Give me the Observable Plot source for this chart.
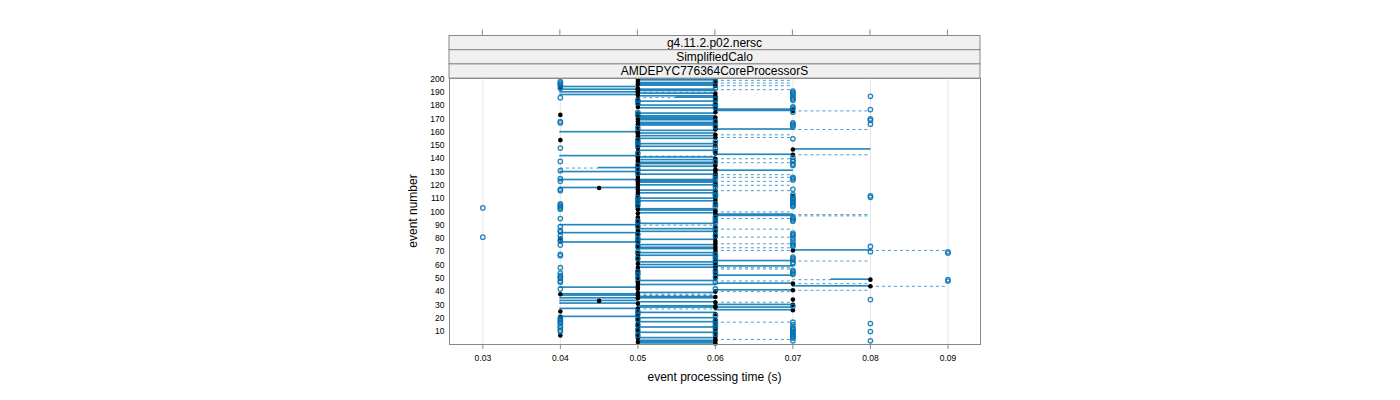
<!DOCTYPE html>
<html><head><meta charset="utf-8">
<script src="https://cdn.jsdelivr.net/npm/d3@7"></script>
<script src="https://cdn.jsdelivr.net/npm/@observablehq/plot@0.6"></script>
<style>body{margin:0;background:#fff;} #chart{width:1400px;height:400px;}</style>
</head><body><div id="chart"></div>
<script>
// Per-event box statistics (event 1..200): median, quartiles, whisker ends (seconds)
const med = [
.06,.05,.06,.06,.05,.06,.04,.05,.06,.05, .06,.05,.06,.05,.06,.05,.06,.05,.06,.05,
.04,.05,.06,.05,.04,.07,.05,.06,.06,.07, .05,.06,.045,.07,.05,.06,.05,.04,.05,.06,
.07,.05,.05,.08,.05,.07,.05,.05,.08,.06, .05,.06,.06,.05,.06,.05,.06,.05,.06,.06,
.05,.06,.06,.05,.06,.05,.06,.05,.05,.06, .07,.06,.05,.06,.05,.06,.05,.06,.05,.04,
.06,.05,.06,.05,.06,.05,.06,.05,.06,.05, .05,.05,.06,.05,.06,.05,.06,.06,.05,.06,
.06,.05,.05,.05,.06,.05,.06,.05,.06,.05, .06,.07,.05,.06,.05,.06,.05,.045,.05,.06,
.05,.06,.05,.05,.05,.06,.05,.06,.06,.05, .06,.06,.05,.05,.06,.05,.06,.05,.05,.06,
.05,.05,.07,.06,.05,.06,.07,.05,.05,.06, .05,.06,.05,.04,.05,.06,.05,.06,.05,.05,
.05,.06,.06,.05,.06,.05,.06,.05,.06,.05, .06,.05,.04,.05,.06,.07,.07,.06,.05,.06,
.05,.06,.05,.06,.05,.06,.06,.05,.06,.05, .05,.05,.05,.04,.06,.05,.06,.05,.06,.05];
const q1 = [
.05,.05,.05,.06,.05,.06,.04,.05,.05,.05, .06,.05,.05,.05,.06,.05,.05,.05,.06,.05,
.04,.05,.06,.05,.04,.06,.04,.05,.05,.06, .04,.05,.04,.07,.04,.05,.04,.04,.05,.06,
.06,.05,.04,.07,.05,.06,.05,.05,.075,.06, .05,.06,.06,.05,.06,.05,.06,.05,.06,.05,
.05,.05,.06,.05,.06,.05,.05,.05,.05,.06, .07,.05,.05,.06,.05,.06,.04,.06,.05,.04,
.06,.05,.06,.04,.05,.05,.05,.05,.06,.04, .05,.05,.06,.05,.06,.05,.06,.06,.05,.06,
.05,.05,.05,.05,.06,.05,.06,.05,.06,.05, .06,.07,.05,.05,.05,.05,.05,.04,.05,.05,
.05,.05,.05,.04,.05,.06,.05,.05,.06,.04, .05,.06,.045,.05,.06,.05,.05,.05,.05,.06,
.05,.04,.06,.06,.05,.05,.07,.05,.05,.06, .05,.06,.05,.04,.05,.06,.05,.06,.05,.04,
.05,.06,.06,.05,.05,.05,.05,.05,.05,.05, .05,.05,.04,.05,.06,.06,.06,.05,.05,.05,
.05,.06,.05,.06,.05,.055,.05,.04,.05,.04, .05,.04,.05,.04,.05,.05,.05,.05,.05,.05];
const q3 = [
.06,.06,.06,.06,.06,.06,.04,.05,.06,.05, .06,.05,.06,.05,.06,.05,.06,.05,.06,.06,
.05,.05,.06,.06,.04,.07,.05,.07,.06,.07, .05,.06,.05,.07,.06,.06,.05,.05,.06,.06,
.07,.05,.05,.08,.06,.07,.05,.06,.08,.06, .05,.07,.06,.05,.06,.05,.06,.06,.07,.06,
.05,.06,.07,.05,.06,.05,.06,.05,.06,.06, .08,.06,.06,.06,.06,.06,.05,.06,.06,.04,
.06,.05,.06,.05,.06,.05,.06,.05,.06,.05, .06,.05,.06,.05,.06,.05,.07,.07,.06,.06,
.06,.06,.05,.05,.06,.05,.06,.06,.06,.06, .06,.07,.05,.06,.05,.06,.05,.05,.05,.06,
.05,.06,.06,.06,.05,.06,.05,.06,.06,.05, .07,.06,.05,.06,.06,.06,.06,.05,.06,.06,
.06,.05,.07,.06,.05,.06,.08,.05,.06,.06, .06,.06,.05,.04,.06,.06,.06,.06,.06,.05,
.06,.07,.06,.05,.06,.06,.06,.05,.06,.06, .06,.06,.04,.06,.06,.07,.07,.06,.05,.06,
.05,.06,.06,.06,.05,.06,.06,.05,.06,.05, .06,.06,.05,.05,.06,.06,.06,.05,.06,.06];
const lo = [
.05,.05,.05,.06,.05,.06,.04,.05,.05,.05, .06,.05,.05,.05,.06,.05,.05,.05,.06,.05,
.04,.05,.06,.05,.04,.06,.04,.05,.05,.06, .04,.05,.04,.07,.04,.05,.04,.04,.05,.06,
.06,.05,.04,.07,.05,.06,.05,.05,.07,.06, .05,.06,.06,.05,.06,.05,.06,.05,.06,.05,
.05,.05,.06,.05,.06,.05,.05,.05,.05,.06, .06,.05,.05,.06,.05,.06,.04,.06,.05,.04,
.06,.05,.06,.04,.05,.05,.05,.05,.06,.04, .05,.05,.06,.05,.06,.05,.06,.06,.05,.06,
.05,.05,.05,.05,.06,.05,.06,.05,.06,.05, .06,.07,.05,.05,.05,.05,.05,.04,.05,.05,
.05,.05,.05,.04,.05,.06,.05,.05,.06,.04, .05,.06,.04,.05,.06,.05,.05,.05,.05,.06,
.05,.04,.06,.06,.05,.05,.07,.05,.05,.06, .05,.06,.05,.04,.05,.06,.05,.06,.05,.04,
.05,.06,.06,.05,.05,.05,.05,.05,.05,.05, .05,.05,.04,.05,.06,.06,.06,.05,.05,.05,
.05,.06,.05,.06,.05,.05,.05,.04,.05,.04, .05,.04,.05,.04,.05,.05,.05,.05,.05,.05];
const hi = [
.06,.06,.06,.07,.06,.06,.04,.05,.06,.05, .06,.05,.06,.05,.06,.05,.07,.05,.06,.06,
.05,.05,.06,.06,.04,.07,.06,.07,.06,.07, .05,.07,.05,.07,.06,.06,.06,.06,.06,.07,
.08,.05,.05,.09,.06,.08,.05,.07,.08,.06, .05,.07,.06,.05,.06,.05,.07,.07,.07,.06,
.05,.06,.08,.05,.06,.05,.06,.05,.06,.06, .09,.06,.07,.06,.06,.07,.05,.06,.06,.04,
.07,.05,.06,.05,.06,.05,.07,.05,.06,.06, .06,.05,.06,.05,.07,.05,.08,.08,.06,.07,
.06,.06,.05,.05,.06,.05,.06,.06,.06,.06, .06,.07,.05,.06,.05,.07,.05,.05,.05,.07,
.05,.06,.07,.06,.05,.07,.05,.07,.06,.05, .07,.06,.05,.06,.06,.06,.07,.05,.06,.07,
.06,.06,.08,.06,.05,.06,.08,.05,.06,.06, .06,.06,.05,.04,.06,.07,.06,.07,.06,.05,
.06,.08,.06,.05,.06,.06,.06,.05,.06,.06, .06,.06,.04,.06,.06,.08,.07,.06,.05,.06,
.05,.06,.06,.06,.05,.06,.06,.05,.06,.06, .06,.07,.05,.05,.07,.06,.07,.05,.07,.06];
// Outliers: [event, time]
const outliers = [
[3,.07],[3,.08],[5,.07],[6,.07],[7,.05],[7,.07],[8,.06],[8,.07],[9,.07],[10,.04],[10,.07],[10,.08],
[11,.04],[11,.05],[11,.07],[12,.06],[12,.07],[13,.04],[13,.07],[14,.04],[14,.06],[15,.05],[15,.07],[16,.04],[16,.06],[16,.08],[17,.04],[17,.07],
[18,.04],[18,.06],[19,.04],[19,.05],[20,.04],[22,.06],[23,.05],[25,.05],[29,.07],[34,.08],[42,.04],[42,.06],[47,.04],[47,.06],[48,.04],[48,.09],
[49,.09],[50,.04],[50,.05],[51,.04],[51,.06],[52,.04],[53,.05],[53,.07],[54,.04],[54,.06],[54,.07],[55,.05],[55,.07],[56,.06],[56,.07],[58,.04],
[61,.06],[61,.07],[62,.07],[64,.06],[64,.07],[65,.05],[65,.07],[66,.06],[66,.07],[67,.04],[68,.04],[68,.06],[69,.09],
[70,.05],[70,.08],[70,.09],[74,.05],[74,.07],[74,.08],[75,.04],[75,.07],[76,.07],[78,.04],[78,.05],[78,.07],[79,.04],
[80,.05],[80,.07],[81,.03],[82,.04],[82,.06],[82,.07],[83,.05],[83,.07],[84,.07],[85,.04],[86,.04],[86,.06],
[88,.06],[89,.04],[89,.05],[92,.06],[93,.05],[93,.07],[94,.06],[94,.07],[95,.04],[95,.07],[96,.06],[96,.07],
[102,.04],[103,.03],[103,.04],[104,.04],[104,.06],[104,.07],[105,.04],[105,.05],[105,.07],[106,.04],[106,.06],[106,.07],
[107,.05],[107,.07],[108,.07],[109,.05],[109,.07],[110,.07],[111,.05],[111,.07],[111,.08],[112,.06],[112,.08],[113,.06],[113,.07],
[115,.06],[116,.04],[117,.04],[117,.07],[119,.06],[121,.06],[123,.04],[124,.07],[125,.04],[125,.06],[125,.07],
[126,.07],[127,.06],[129,.05],[131,.04],[132,.05],[135,.05],[135,.07],[136,.07],[138,.04],[138,.06],[138,.07],[139,.07],[141,.07],
[144,.05],[145,.06],[148,.04],[148,.06],[150,.05],[152,.05],[153,.06],[154,.05],[155,.07],[163,.05],[164,.06],[164,.07],[165,.07],
[166,.07],[166,.08],[167,.04],[167,.07],[168,.04],[168,.06],[169,.08],[170,.08],[173,.05],[175,.05],[175,.07],[177,.08],
[178,.07],[179,.06],[179,.07],[181,.06],[182,.05],[184,.05],[184,.07],[185,.06],[185,.07],[186,.04],[186,.07],
[187,.08],[188,.07],[189,.07],[190,.07],[191,.07],[193,.04],[193,.06],[195,.04],[196,.04],[197,.04],[198,.04],[198,.06]];
const xTicks = [0.03,0.04,0.05,0.06,0.07,0.08,0.09];
const yTicks = [10,20,30,40,50,60,70,80,90,100,110,120,130,140,150,160,170,180,190,200];
const strips = ["g4.11.2.p02.nersc","SimplifiedCalo","AMDEPYC776364CoreProcessorS"];
const xTitle = "event processing time (s)";
const yTitle = "event number";

const rows = med.map((m,i)=>({event:i+1, med:m, q1:q1[i], q3:q3[i], lo:lo[i], hi:hi[i]}));
const outs = outliers.map(([e,t])=>({event:e, time:t}));
const blue = "#0072B2";
const font = "'Liberation Sans', Arial, Helvetica, sans-serif";

const plot = Plot.plot({
  width:1400, height:400,
  marginLeft:449, marginRight:420, marginTop:78, marginBottom:56,
  style:{fontFamily:font, fontSize:"8.5px", color:"#000", background:"#fff", overflow:"visible"},
  x:{domain:[0.0257,0.0942]},
  y:{domain:[0.2,200.4]},
  marks:[
    Plot.ruleX(xTicks, {stroke:"#e6e6e6", strokeWidth:1}),
    Plot.ruleY(rows, {y:"event", x1:"lo", x2:"q1", stroke:blue, strokeOpacity:0.7, strokeDasharray:"3,3"}),
    Plot.ruleY(rows, {y:"event", x1:"q3", x2:"hi", stroke:blue, strokeOpacity:0.7, strokeDasharray:"3,3"}),
    Plot.rect(rows, {x1:"q1", x2:"q3", y1:d=>d.event-0.25, y2:d=>d.event+0.25, stroke:blue, strokeOpacity:0.85, fill:"none"}),
    Plot.dot(rows, {x:"med", y:"event", r:2.3, fill:"black", stroke:"none"}),
    Plot.dot(outs, {x:"time", y:"event", r:2.2, stroke:blue, strokeWidth:1.3, strokeOpacity:0.85, fill:"none"}),
    Plot.frame({stroke:"#888"}),
    Plot.axisX(xTicks, {anchor:"bottom", tickSize:5, tickPadding:5, stroke:"#888", tickFormat:d=>d.toFixed(2), label:null, color:"#000"}),
    Plot.axisY(yTicks, {anchor:"left", tickSize:0, tickPadding:5, label:null})
  ]
});

const svg = d3.select(plot);
const xs = plot.scale("x");
const [px0, px1] = xs.range;
// top ticks (lattice draws them above the strips)
svg.append("g").selectAll("line").data(xTicks).join("line")
  .attr("x1", d=>xs.apply(d)).attr("x2", d=>xs.apply(d))
  .attr("y1", 29.5).attr("y2", 35.5).attr("stroke", "#888");
// strips
const stripTop = 35.5, stripH = 14.2;
strips.forEach((s,i)=>{
  const y0 = stripTop + i*stripH;
  svg.append("rect").attr("x", px0).attr("y", y0).attr("width", px1-px0).attr("height", stripH)
    .attr("fill", "#f0f0f0").attr("stroke", "#888");
  svg.append("text").attr("x", (px0+px1)/2).attr("y", y0+stripH/2).attr("dy","0.36em")
    .attr("text-anchor","middle").attr("font-size", 12).attr("font-family", font).attr("fill","#000").text(s);
});
svg.append("text").attr("x",(px0+px1)/2).attr("y",377).attr("dy","0.36em").attr("text-anchor","middle")
  .attr("font-size",12).attr("font-family",font).attr("fill","#000").text(xTitle);
svg.append("text").attr("transform","translate(413,211) rotate(-90)").attr("dy","0.36em").attr("text-anchor","middle")
  .attr("font-size",12).attr("font-family",font).attr("fill","#000").text(yTitle);

document.getElementById("chart").append(plot);
</script>
</body></html>
